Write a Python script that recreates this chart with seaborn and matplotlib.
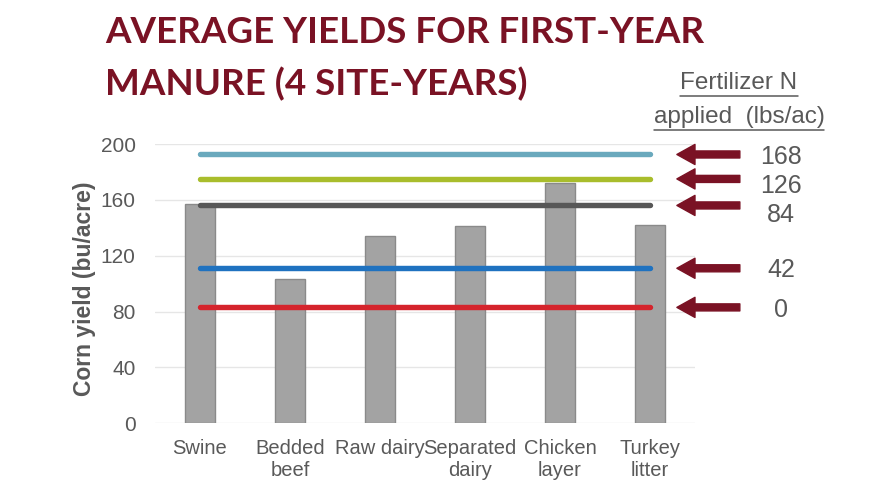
import matplotlib
matplotlib.use("Agg")
import matplotlib.pyplot as plt
import pandas as pd
import seaborn as sns
from matplotlib.lines import Line2D

# Data
manure_types = ["Swine", "Bedded\nbeef", "Raw dairy", "Separated\ndairy", "Chicken\nlayer", "Turkey\nlitter"]
manure_yield = [157, 103, 134, 141.5, 172, 142]

fert_rates = ["168", "126", "84", "42", "0"]
fert_yield = [192.5, 175, 156, 111, 83]
fert_colors = ["#6aa9bd", "#a9bd2c", "#575757", "#1f72c0", "#d5242c"]

# small vertical nudges (points) of arrows / numbers, as in the slide
arrow_dy = [1, -3, -1, -0.7, 0]
label_dy = [-2, -5.3, -6.7, -1.4, -1.7]

title_lines = ["AVERAGE YIELDS FOR FIRST-YEAR", "MANURE (4 SITE-YEARS)"]
header = "Fertilizer N\napplied  (lbs/ac)"
text_gray = "#595959"
dark_red = "#7a1224"

sns.set_theme(style="white")
plt.rcParams["font.family"] = ["Liberation Sans", "DejaVu Sans"]

df = pd.DataFrame({"manure": manure_types, "yield": manure_yield})

fig = plt.figure(figsize=(8.88, 5), dpi=100)
ax = fig.add_axes([0.1745, 0.1534, 0.608, 0.5586])

sns.barplot(data=df, x="manure", y="yield", color="#a3a3a3", width=0.33,
            edgecolor="#8a8a8a", linewidth=1, saturation=1, ax=ax, zorder=2)

for v, c in zip(fert_yield, fert_colors):
    ax.plot([0, len(manure_types) - 1], [v, v], color=c, lw=3.9,
            solid_capstyle="round", zorder=3)

ax.set_xlim(-0.5, len(manure_types) - 0.5)
ax.set_ylim(0, 200)
ax.set_yticks(range(0, 201, 40))
ax.grid(axis="y", color="#e6e6e6", lw=1, zorder=0)
ax.grid(axis="x", visible=False)
sns.despine(ax=ax, left=True, bottom=True, top=True, right=True)
ax.tick_params(axis="y", length=0, pad=14, labelsize=15, labelcolor=text_gray)
ax.tick_params(axis="x", length=0, pad=11, labelsize=14.5, labelcolor=text_gray)
ax.set_xlabel("")
ax.set_ylabel("Corn yield (bu/acre)", fontsize=16.5, fontweight="bold", color=text_gray)
ax.yaxis.set_label_coords(-0.11, 0.483)

# arrows and fertilizer N labels on the right
for v, lab, ady, ldy in zip(fert_yield, fert_rates, arrow_dy, label_dy):
    ax.annotate("", xy=(5.3, v), xycoords="data",
                xytext=(6.0, v), textcoords="data",
                arrowprops=dict(arrowstyle="simple,head_length=0.9,head_width=1.0,tail_width=0.35",
                                mutation_scale=14.5, color=dark_red, shrinkA=0, shrinkB=0),
                annotation_clip=False)
    ax.annotate(lab, xy=(6.46, v), xycoords="data", xytext=(0, ldy),
                textcoords="offset points", ha="center", va="center",
                fontsize=18, color=text_gray, annotation_clip=False)

# title, one text per line
for line, base in zip(title_lines, [43, 95]):
    fig.text(105 / 888, 1 - base / 500, line, ha="left", va="baseline", fontsize=26.5,
             fontweight="bold", color=dark_red, family=["Lato", "DejaVu Sans"])

# header with underlined lines
ls = 1.7
hdr = fig.text(739 / 888, 1 - 123 / 500, header, ha="center", va="baseline",
               multialignment="center", fontsize=17.5, color=text_gray, linespacing=ls)

fig.canvas.draw()
renderer = fig.canvas.get_renderer()
fp = hdr.get_fontproperties()
bb = hdr.get_window_extent(renderer)
line1, line2 = header.split("\n")
w1, _, _ = renderer.get_text_width_height_descent(line1, fp, ismath=False)
w2, h2, d2 = renderer.get_text_width_height_descent(line2, fp, ismath=False)
_, hl, dl = renderer.get_text_width_height_descent("lp", fp, ismath=False)
base2 = bb.y0 + d2
base1 = base2 + max((hl - dl) * ls, (h2 - d2) * ls)
cx = (bb.x0 + bb.x1) / 2
inv = fig.transFigure.inverted()
for w, y in [(w1, base1 - 2), (w2, bb.y0 - 2)]:
    (x0, y0), (x1, _) = inv.transform([(cx - w / 2, y), (cx + w / 2, y)])
    fig.add_artist(Line2D([x0, x1], [y0, y0], color=text_gray, lw=1.1,
                          transform=fig.transFigure))

fig.savefig("out.png", dpi=100)
